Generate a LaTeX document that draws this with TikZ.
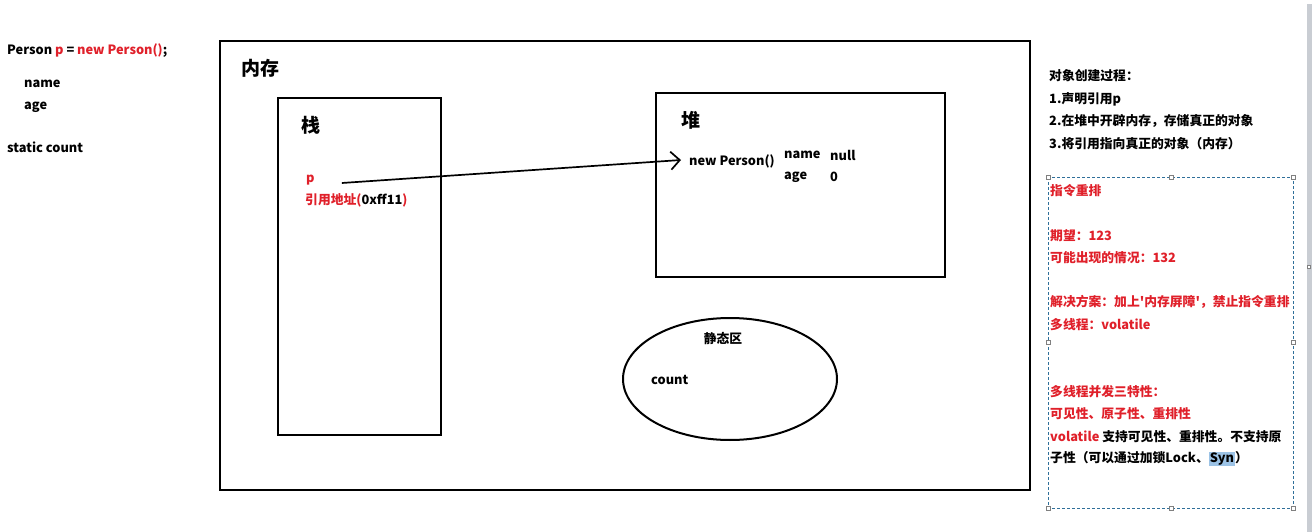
\documentclass[tikz,border=0pt]{standalone}
\usepackage{fontspec}
\setmainfont{Noto Sans CJK SC}
\newfontfamily\nomapfont{Noto Sans CJK SC}
\usetikzlibrary{arrows.meta}
\definecolor{rd}{HTML}{E0202A}
\definecolor{dashblue}{HTML}{2F6F99}
\definecolor{hl}{HTML}{9CC3E6}
\definecolor{barcol}{HTML}{C9CDD3}
\newcommand{\sq}{{\nomapfont\bfseries\symbol{39}}}
\tikzset{
  txt/.style={anchor=west,inner sep=0pt,font=\fontsize{12.8}{14}\selectfont\bfseries},
  big/.style={anchor=west,inner sep=0pt,font=\fontsize{19}{22}\selectfont\bfseries},
  rtxt/.style={txt,text=rd},
  box/.style={draw=black,line width=2pt},
  arr/.style={line width=1.7pt,-{Straight Barb[length=9pt,width=18pt,line width=1.7pt]}},
  handle/.style={draw=gray,fill=white,line width=0.6pt,minimum size=4pt,inner sep=0pt,shape=rectangle},
}
\begin{document}
\begin{tikzpicture}[x=1pt,y=-1pt]
\useasboundingbox (0,0) rectangle (1312,532);
\fill[white] (0,0) rectangle (1312,532);
\fill[barcol] (1307,4) rectangle (1312,532);
\node[draw=gray,fill=white,minimum size=3pt,inner sep=0pt] (barhandle) at (1309,267) {};

% left code
\node[txt] (code) at (7,51) {Person \textcolor{rd}{p} = \textcolor{rd}{new Person()};};
\node[txt] (lname) at (24,84) {name};
\node[txt] (lage) at (24,107) {age};
\node[txt] (lstatic) at (7,147) {static count};

% memory
\draw[box] (220,41) rectangle (1030,490);
\node[big] (mem) at (241,68) {内存};

% stack
\draw[box] (278,98) rectangle (441,435);
\node[big] (stack) at (301,125) {栈};
\node[rtxt] (p) at (306,180) {p};
\node[txt] (addr) at (305,200) {\textcolor{rd}{引用地址(}0xff11\textcolor{rd}{)}};

% heap
\draw[box] (656,93) rectangle (945,277);
\node[big] (heap) at (681,120) {堆};
\node[txt] (np) at (689,161) {new Person()};
\node[txt] (hname) at (784,155) {name};
\node[txt] (hnull) at (830,155) {null};
\node[txt] (hage) at (784,177) {age};
\node[txt] (hzero) at (830,177) {0};

\draw[arr] ([xshift=27pt,yshift=-3pt]p.east) -- ([xshift=-8pt,yshift=1pt]np.west);

% static area
\draw[line width=2pt] (730,379) ellipse [x radius=107, y radius=61];
\node[txt,anchor=center] (static) at (723,339) {静态区};
\node[txt] (count) at (651,380) {count};

% right notes
\node[txt] (t0) at (1049,76) {对象创建过程：};
\node[txt] (t1) at (1049,99) {1.声明引用p};
\node[txt] (t2) at (1049,121) {2.在堆中开辟内存，存储真正的对象};
\node[txt] (t3) at (1049,144) {3.将引用指向真正的对象（内存）};

\draw[dashblue,line width=0.8pt,dash pattern=on 3pt off 2pt] (1048,177) rectangle (1293,508);
\foreach \hx/\hy in {1048/177,1171/177,1293/177,1048/342,1293/342,1048/508,1171/508,1293/508}
  \node[handle] at (\hx,\hy) {};

\node[rtxt] (r1) at (1050,191) {指令重排};
\node[rtxt] (r2) at (1050,236) {期望：123};
\node[rtxt] (r3) at (1050,258) {可能出现的情况：132};
\node[rtxt] (r4) at (1050,302) {解决方案：加上\sq 内存屏障\sq ，禁止指令重排};
\node[rtxt] (r5) at (1050,325) {多线程：volatile};
\node[rtxt] (r6) at (1050,392) {多线程并发三特性：};
\node[rtxt] (r7) at (1050,414) {可见性、原子性、重排性};
\node[txt] (r8) at (1050,437) {\textcolor{rd}{volatile} 支持可见性、重排性。不支持原};
\node[txt] (r9) at (1050,459) {子性（可以通过加锁Lock、{\setlength{\fboxsep}{1pt}\colorbox{hl}{Syn}}）};
\end{tikzpicture}
\end{document}
